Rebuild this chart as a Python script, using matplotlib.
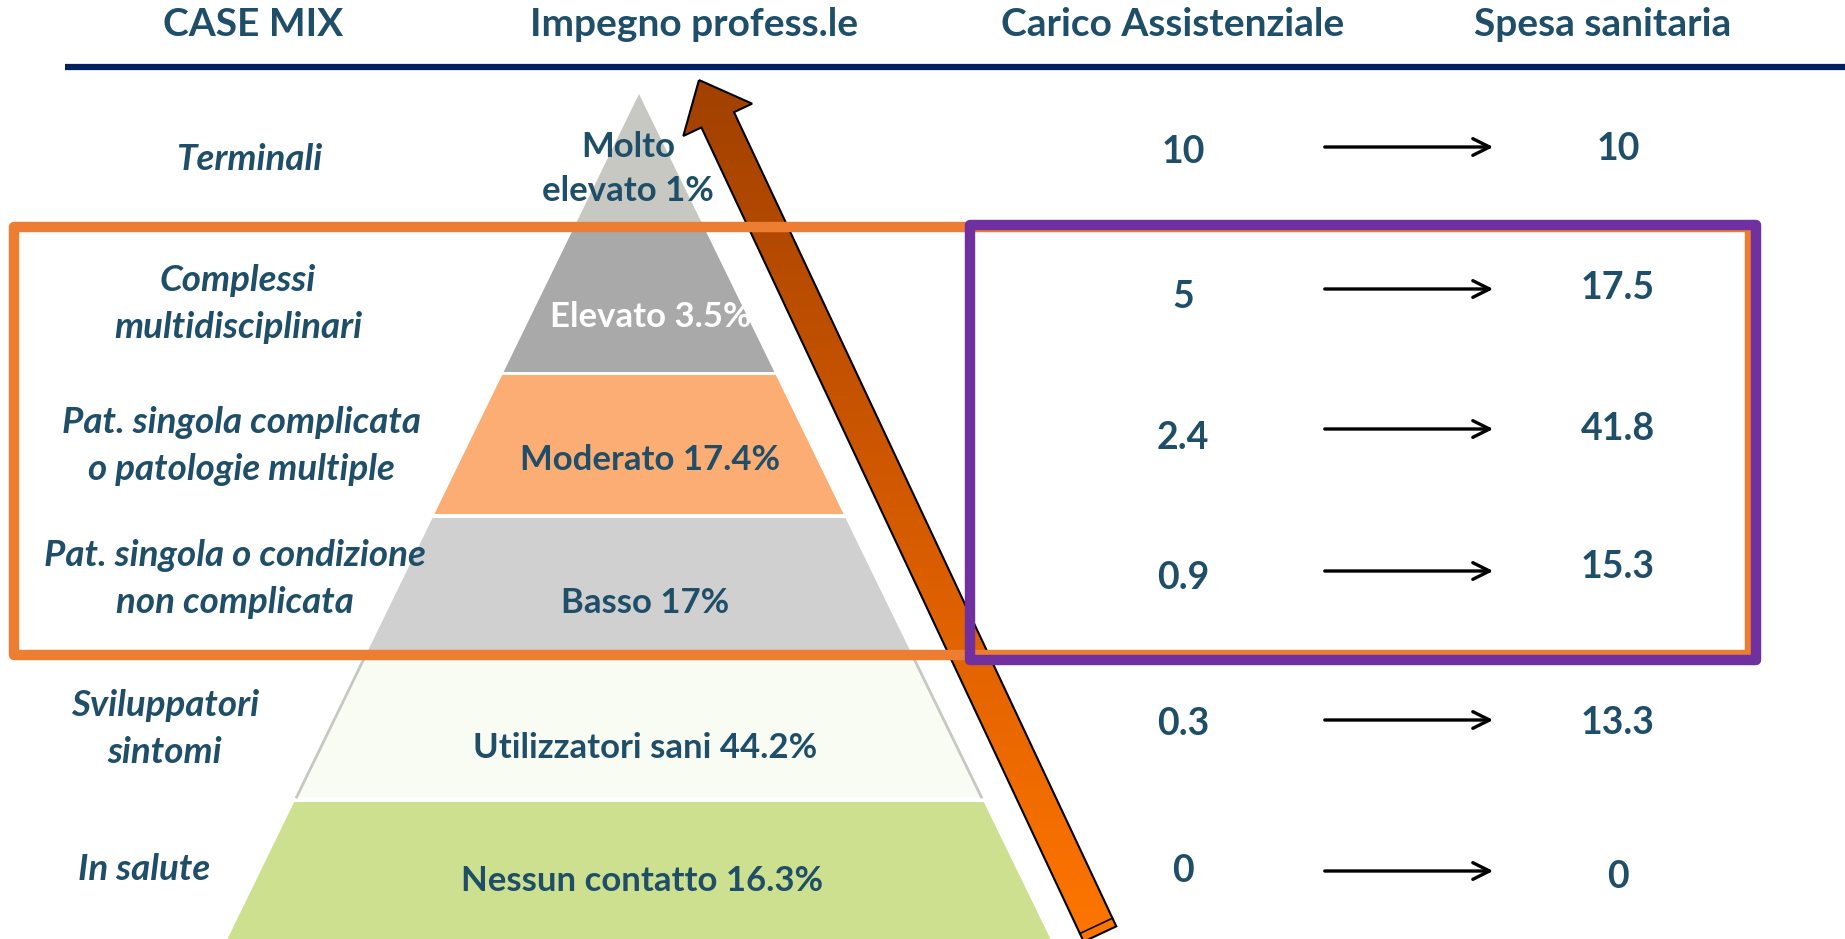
import numpy as np
import matplotlib.pyplot as plt
from matplotlib.patches import Polygon, Rectangle
from matplotlib.colors import LinearSegmentedColormap

# data
headers = ['CASE MIX', 'Impegno profess.le', 'Carico Assistenziale', 'Spesa sanitaria']
case_mix = ['Terminali', 'Complessi\nmultidisciplinari',
            'Pat. singola complicata\no patologie multiple',
            'Pat. singola o condizione\nnon complicata',
            'Sviluppatori\nsintomi', 'In salute']
impegno = ['Molto\nelevato', 'Elevato', 'Moderato', 'Basso', 'Utilizzatori sani', 'Nessun contatto']
impegno_pct = [1, 3.5, 17.4, 17, 44.2, 16.3]
carico = ['10', '5', '2.4', '0.9', '0.3', '0']
spesa = ['10', '17.5', '41.8', '15.3', '13.3', '0']

# layout (pixel coords of a 1845x939 canvas)
band_colors = ['#C8C8C3', '#A9A9A9', '#FBAD74', '#D0D0D0', '#F8FCF3', '#CCE08F']
band_rows = [(94, 228), (232, 372), (375, 514), (518, 651), (657, 797), (802, 990)]
apex_x, apex_y, slope = 639, 94, 0.487
txt_col = '#1F4E69'

plt.rcParams['font.family'] = ['Lato', 'DejaVu Sans']

fig = plt.figure(figsize=(18.45, 9.39), dpi=100)
ax = fig.add_axes([0, 0, 1, 1])
ax.set_xlim(0, 1845)
ax.set_ylim(939, 0)
ax.axis('off')

# header
header_x = [253, 694, 1173, 1603]
for x, h in zip(header_x, headers):
    ax.text(x, 24, h, ha='center', va='center', fontsize=28, fontweight='bold', color=txt_col)
ax.plot([65, 1845], [67, 67], color='#002060', lw=4.5, solid_capstyle='butt')

# pyramid
def half(y):
    return slope * (y - apex_y)

for i, ((t, b), c) in enumerate(zip(band_rows, band_colors)):
    pts = [(apex_x - half(t), t), (apex_x + half(t), t), (apex_x + half(b), b), (apex_x - half(b), b)]
    ax.add_patch(Polygon(pts, closed=True, fc=c, ec='none', zorder=1))
    if i == 4:  # pale band has grey sides
        ax.plot([pts[0][0], pts[3][0]], [t, b], color='#C8C8C2', lw=2, zorder=2)
        ax.plot([pts[1][0], pts[2][0]], [t, b], color='#C8C8C2', lw=2, zorder=2)

pyr_pos = [(628, 169), (651, 317), (650, 460), (645, 603), (645, 748), (642, 881)]
for i, ((x, y), name, p) in enumerate(zip(pyr_pos, impegno, impegno_pct)):
    col = 'white' if i == 1 else txt_col
    ax.text(x, y, f'{name} {p:g}%', ha='center', va='center', fontsize=25,
            fontweight='bold', color=col, zorder=3, linespacing=1.45)

# case mix labels
left_pos = [(249, 159), (238, 304), (241, 446), (235, 579), (165, 729), (144, 870)]
for (x, y), lab in zip(left_pos, case_mix):
    ax.text(x, y, lab, ha='center', va='center', fontsize=26.5, fontweight='bold',
            style='italic', color=txt_col, linespacing=1.55)

# carico -> spesa
carico_y = [152, 297, 438, 578, 724, 871]
spesa_y = [149, 288, 429, 567, 723, 877]
arrow_y = [147, 289, 429, 571, 720, 871]
for c, s, yc, ys, ya in zip(carico, spesa, carico_y, spesa_y, arrow_y):
    ax.text(1183, yc, c, ha='center', va='center', fontsize=27, fontweight='bold', color=txt_col)
    ax.text(1618, ys, s, ha='center', va='center', fontsize=27, fontweight='bold', color=txt_col)
    ax.annotate('', xy=(1496, ya), xytext=(1322, ya),
                arrowprops=dict(arrowstyle='->', lw=2.4, color='black', mutation_scale=30))

# big gradient arrow
tip = np.array([699.0, 80.0])
tail = np.array([1100.0, 934.0])
u = (tail - tip) / np.linalg.norm(tail - tip)
n = np.array([-u[1], u[0]])
w, h, L = 18, 38, 44
base = tip + L * u
arrow_pts = [tip, base + h * n, base + w * n, tail + w * n, tail - w * n, base - w * n, base - h * n]
arrow = Polygon(arrow_pts, closed=True, fc='none', ec='black', lw=1.5, zorder=5)
ax.add_patch(arrow)
cmap = LinearSegmentedColormap.from_list('arr', ['#A04000', '#D45A00', '#FF7500'])
grad = np.linspace(0, 1, 256).reshape(-1, 1)
im = ax.imshow(grad, cmap=cmap, aspect='auto', extent=[640, 1130, 940, 75], zorder=4)
im.set_clip_path(arrow)
cap = tail - 9 * u
ax.plot([cap[0] + w * n[0], cap[0] - w * n[0]], [cap[1] + w * n[1], cap[1] - w * n[1]],
        color='black', lw=1.2, zorder=5)

# highlight boxes
ax.add_patch(Rectangle((14, 227), 1736, 428, fill=False, ec='#ED7D31', lw=7.5,
                       joinstyle='round', zorder=6))
ax.add_patch(Rectangle((970, 225), 786, 435, fill=False, ec='#7030A0', lw=7.5,
                       joinstyle='round', zorder=7))

fig.savefig('out.png', dpi=100)
